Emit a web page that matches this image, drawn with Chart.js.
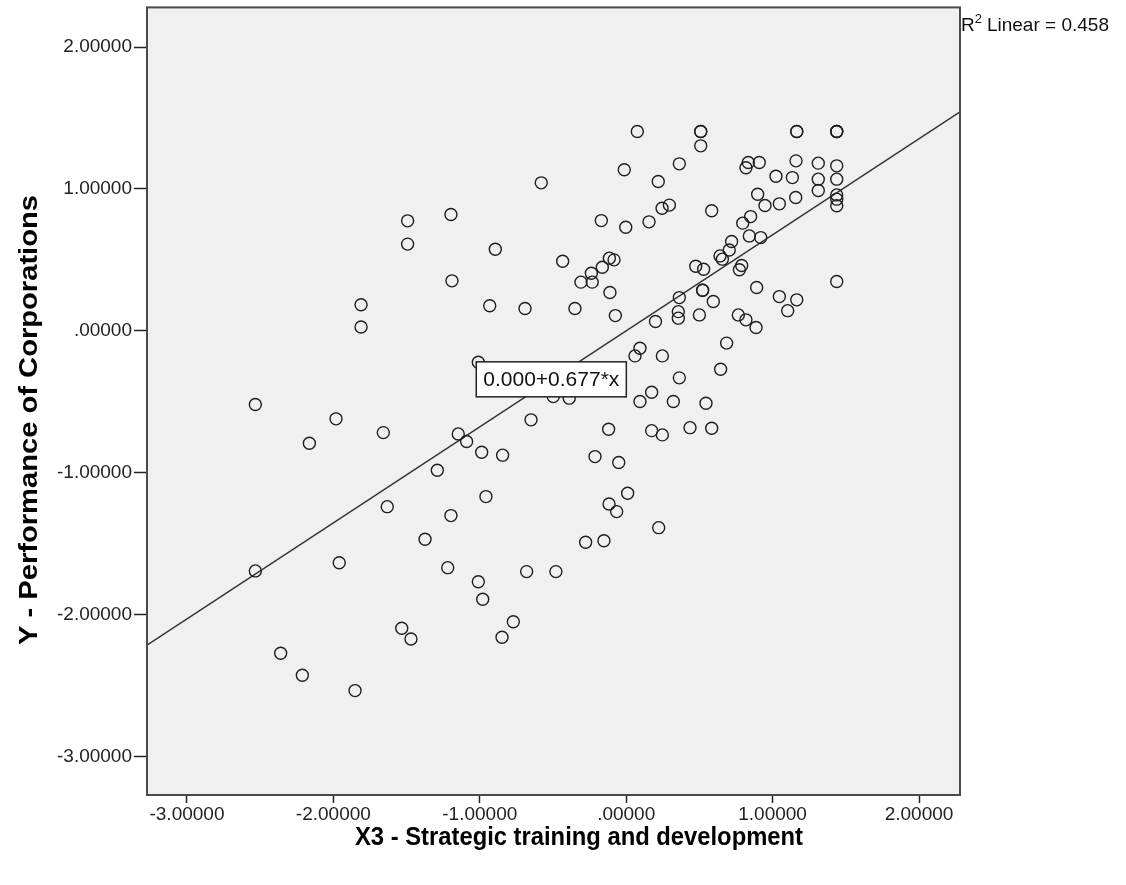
<!DOCTYPE html>
<html><head><meta charset="utf-8">
<script src="https://cdn.jsdelivr.net/npm/chart.js@4.4.0/dist/chart.umd.min.js"></script>
<style>html,body{margin:0;padding:0;background:#fff;overflow:hidden;} #wrap{width:1126px;height:885px;position:relative;}</style>
</head><body><div id="wrap"><canvas id="c" width="1126" height="885"></canvas></div>
<script>
// ---- data ----
const xValues = [
  0.076, 0.509, 0.509, 0.509, 0.363, -0.013, 0.219, -0.58, -1.197, 0.245,
  0.295, 0.584, -0.17, -0.003, 0.156, -0.894, -0.434, -0.115, -0.083, -0.163,
  -0.238, -0.309, -0.232, -1.19, -0.111, -0.932, -0.691, -0.35, -0.074, 0.475,
  0.529, 0.522, 0.522, 0.595, 0.363, 0.356, 0.356, 0.50, 0.20, 0.094,
  0.06, 0.247, -1.01, 0.363, 1.165, 1.165, 1.438, 1.438, 1.438, 0.834,
  0.909, 0.818, 1.16, 1.312, 1.438, 1.023, 1.135, 1.312, 1.438, 1.312,
  1.438, 1.438, 1.438, 1.158, 0.898, 1.046, 0.948, 0.85, 0.796, 0.841,
  0.919, 0.72, 0.704, 0.641, 0.657, 0.789, 0.773, 0.891, 1.438, 1.046,
  1.165, 1.103, 0.766, 0.818, 0.887, 0.686, 0.645, 0.545, 0.584, 0.436,
  0.174, 0.094, 0.322, -0.498, -0.389, -0.65, -0.12, 0.174, 0.247, -1.147,
  -1.09, -0.987, -0.844, -1.29, -0.213, -0.051, -0.958, 0.01, -0.117, -0.065,
  -1.197, 0.222, -0.277, -0.152, -1.219, -0.68, -0.48, -1.01, -0.98, -0.771,
  -0.848, -1.811, -1.811, -2.533, -1.982, -2.164, -1.659, -1.632, -1.374, -1.96,
  -2.533, -1.533, -1.47, -2.36, -2.212, -1.852, -1.493, -1.493
];
const yValues = [
  1.405, 1.405, 1.405, 1.304, 1.177, 1.135, 1.052, 1.043, 0.82, 0.864,
  0.886, 0.846, 0.777, 0.73, 0.768, 0.575, 0.49, 0.512, 0.50, 0.448,
  0.406, 0.343, 0.343, 0.352, 0.27, 0.176, 0.157, 0.157, 0.107, 0.455,
  0.434, 0.286, 0.286, 0.206, 0.234, 0.135, 0.089, 0.112, 0.065, -0.123,
  -0.177, -0.177, -0.222, -0.332, 1.405, 1.405, 1.405, 1.405, 1.405, 1.186,
  1.186, 1.149, 1.198, 1.182, 1.163, 1.09, 1.08, 1.069, 1.069, 0.989,
  0.958, 0.928, 0.881, 0.94, 0.963, 0.895, 0.883, 0.805, 0.759, 0.669,
  0.657, 0.629, 0.57, 0.528, 0.505, 0.46, 0.43, 0.305, 0.347, 0.241,
  0.218, 0.142, 0.112, 0.077, 0.023, -0.087, -0.271, -0.511, -0.687, -0.683,
  -0.433, -0.499, -0.499, -0.464, -0.475, -0.628, -0.694, -0.704, -0.734, -0.727,
  -0.781, -0.856, -0.877, -0.983, -0.887, -0.929, -1.169, -1.145, -1.221, -1.275,
  -1.303, -1.388, -1.491, -1.48, -1.67, -1.698, -1.698, -1.769, -1.893, -2.051,
  -2.161, 0.183, 0.027, -0.52, -0.621, -0.793, -0.718, -1.24, -1.47, -1.635,
  -1.693, -2.097, -2.173, -2.274, -2.429, -2.537, 0.775, 0.611
];
const xTickValues = [-3, -2, -1, 0, 1, 2];
const yTickValues = [-3, -2, -1, 0, 1, 2];
const fitIntercept = 0.000;
const fitSlope = 0.677;
const rSquared = 0.458;
const xTitle = 'X3 - Strategic training and development';
const yTitle = 'Y - Performance of Corporations';

// ---- layout / style ----
const AXIS_MIN = -3.273, AXIS_MAX = 2.28;
const labelAnchor = { x: -1.024, y: -0.219 };
const tickFont = { family: '"Liberation Sans", Arial, sans-serif', size: 19 };
const titleFont = 'bold 24px "Liberation Sans", Arial, sans-serif';
const xTitleBox = { cx: 579, cy: 838, width: 448 };
const yTitleBox = { cx: 30, cy: 420, width: 450 };
const titleStretch = 1.1;

function fmt(v) {
  const a = Math.abs(v).toFixed(5);
  const s = Math.abs(v) < 1 ? a.slice(1) : a;
  return (v < 0 ? '-' : '') + s;
}

const points = xValues.map((x, i) => ({ x, y: yValues[i] }));
const fitLine = [AXIS_MIN, AXIS_MAX].map(x => ({ x, y: fitIntercept + fitSlope * x }));

function condensedText(ctx, text, cx, cy, targetW, rot) {
  ctx.save();
  ctx.translate(cx, cy);
  if (rot) ctx.rotate(rot);
  const w = ctx.measureText(text).width;
  ctx.scale(targetW / w, titleStretch);
  ctx.textAlign = 'center';
  ctx.textBaseline = 'middle';
  ctx.fillText(text, 0, 0);
  ctx.restore();
}

const decor = {
  id: 'decor',
  beforeDraw(chart) {
    const { ctx, chartArea: a } = chart;
    ctx.save();
    ctx.fillStyle = '#ffffff';
    ctx.fillRect(0, 0, chart.width, chart.height);
    ctx.fillStyle = '#f0f0f0';
    ctx.fillRect(a.left, a.top, a.right - a.left, a.bottom - a.top);
    ctx.restore();
  },
  afterDatasetsDraw(chart) {
    const { ctx, chartArea: a, scales } = chart;
    ctx.save();
    ctx.strokeStyle = '#4a4a4a';
    ctx.lineWidth = 2;
    ctx.strokeRect(a.left, a.top, a.right - a.left, a.bottom - a.top);
    const txt = fitIntercept.toFixed(3) + '+' + fitSlope.toFixed(3) + '*x';
    ctx.font = '21px "Liberation Sans", Arial, sans-serif';
    const w = ctx.measureText(txt).width;
    const bx = scales.x.getPixelForValue(labelAnchor.x);
    const by = scales.y.getPixelForValue(labelAnchor.y);
    const bw = w + 14, bh = 35;
    ctx.fillStyle = '#ffffff';
    ctx.fillRect(bx, by, bw, bh);
    ctx.strokeStyle = '#222';
    ctx.lineWidth = 1.5;
    ctx.strokeRect(bx, by, bw, bh);
    ctx.fillStyle = '#111';
    ctx.textBaseline = 'middle';
    ctx.textAlign = 'left';
    ctx.fillText(txt, bx + 7, by + bh / 2 + 1);
    ctx.restore();
  },
  afterDraw(chart) {
    const { ctx, chartArea: a } = chart;
    ctx.save();
    ctx.fillStyle = '#111';
    ctx.textBaseline = 'alphabetic';
    ctx.textAlign = 'left';
    ctx.font = '19px "Liberation Sans", Arial, sans-serif';
    let x = a.right + 1;
    ctx.fillText('R', x, 31);
    x += ctx.measureText('R').width;
    ctx.font = '13px "Liberation Sans", Arial, sans-serif';
    ctx.fillText('2', x, 23);
    x += ctx.measureText('2').width + 5;
    ctx.font = '19px "Liberation Sans", Arial, sans-serif';
    ctx.fillText('Linear = ' + rSquared.toFixed(3), x, 31);
    ctx.font = titleFont;
    ctx.fillStyle = '#000';
    condensedText(ctx, xTitle, xTitleBox.cx, xTitleBox.cy, xTitleBox.width, 0);
    condensedText(ctx, yTitle, yTitleBox.cx, yTitleBox.cy, yTitleBox.width, -Math.PI / 2);
    ctx.restore();
  }
};

function axis(tickVals, isX) {
  return {
    type: 'linear',
    min: AXIS_MIN,
    max: AXIS_MAX,
    afterBuildTicks(scale) { scale.ticks = tickVals.map(v => ({ value: v })); },
    afterFit(scale) {
      if (isX) { scale.height = 90; scale.paddingLeft = 0; scale.paddingRight = 0; }
      else { scale.width = 147; scale.paddingTop = 0; scale.paddingBottom = 0; }
    },
    border: { display: false },
    grid: { drawOnChartArea: false, drawTicks: true, tickLength: isX ? 8 : 13, color: '#222', tickWidth: 1.5 },
    ticks: {
      font: tickFont, color: '#222', padding: isX ? 0 : 2,
      maxRotation: 0, autoSkip: false,
      callback: v => fmt(v)
    },
    title: { display: false }
  };
}

new Chart(document.getElementById('c'), {
  type: 'scatter',
  data: {
    datasets: [
      {
        type: 'line', data: fitLine, borderColor: '#333', borderWidth: 1.4,
        pointRadius: 0, fill: false, order: 2
      },
      {
        data: points, pointStyle: 'circle', pointRadius: 6, borderWidth: 1.4,
        borderColor: '#1e1e1e', backgroundColor: 'rgba(0,0,0,0)', order: 1
      }
    ]
  },
  options: {
    responsive: false,
    animation: false,
    events: [],
    devicePixelRatio: 1,
    layout: { padding: { left: 0, top: 7, right: 166, bottom: 0 } },
    plugins: { legend: { display: false }, tooltip: { enabled: false } },
    scales: { x: axis(xTickValues, true), y: axis(yTickValues, false) }
  },
  plugins: [decor]
});
</script>
</body></html>
